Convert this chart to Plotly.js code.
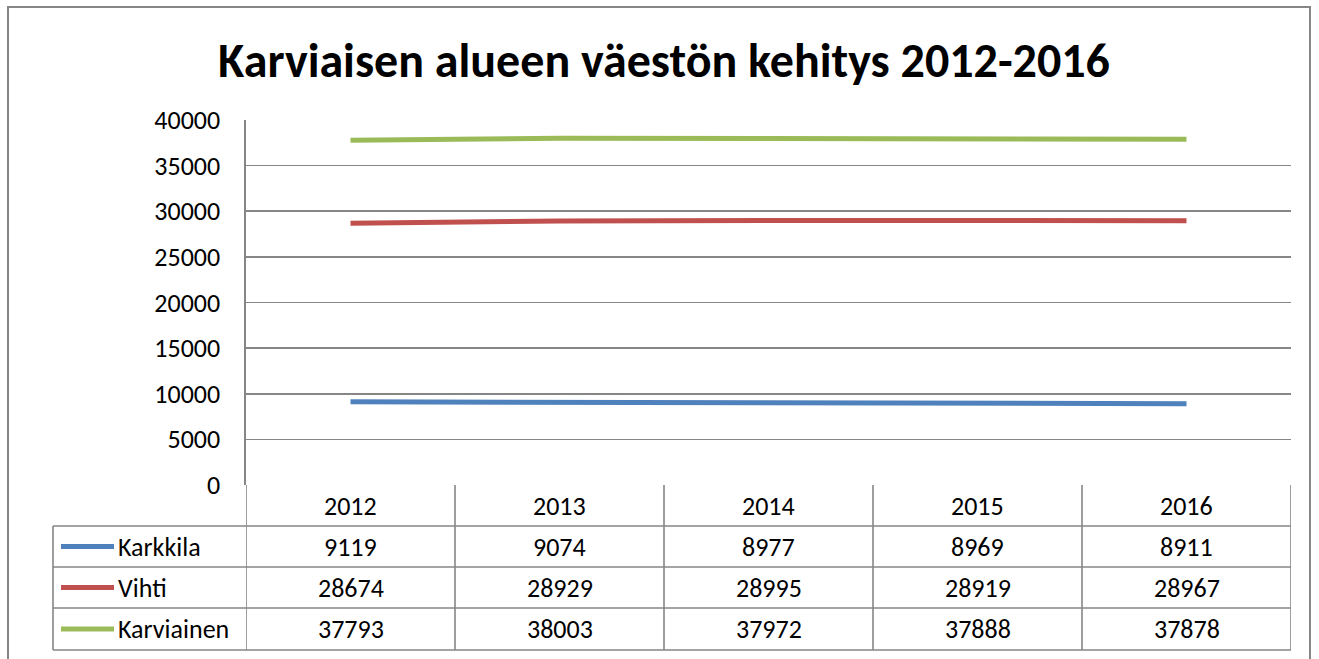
<!DOCTYPE html>
<html>
<head>
<meta charset="utf-8">
<script src="https://cdn.plot.ly/plotly-3.0.1.min.js"></script>
<style>html,body{margin:0;padding:0;background:#fff;}#chart{width:1319px;height:659px;}</style>
</head>
<body>
<div id="chart"></div>
<script>
// ---- data ----
const years = ['2012', '2013', '2014', '2015', '2016'];
const seriesNames = ['Karkkila', 'Vihti', 'Karviainen'];
const karkkila = [9119, 9074, 8977, 8969, 8911];
const vihti = [28674, 28929, 28995, 28919, 28967];
const karviainen = [37793, 38003, 37972, 37888, 37878];
const yTicks = [0, 5000, 10000, 15000, 20000, 25000, 30000, 35000, 40000];
const titleText = 'Karviaisen alueen väestön kehitys 2012-2016';

// ---- styling / layout constants ----
const colors = ['#4F81BD', '#C0504D', '#9BBB59'];
const seriesValues = [karkkila, vihti, karviainen];
const W = 1319, H = 659;
const plotL = 246, plotR = 1291, plotT = 120, plotB = 485;
const FONT = 'Carlito, Calibri, "Liberation Sans", Arial, sans-serif';
const FS = 26;
const gridCol = '#868686';
const px2x = p => (p - plotL) / (plotR - plotL);
const px2y = p => (plotB - p) / (plotB - plotT);

const traces = seriesNames.map((n, i) => ({
  type: 'scatter', mode: 'lines', name: n,
  x: years, y: seriesValues[i],
  line: {color: colors[i], width: 5},
  hoverinfo: 'x+y+name'
}));

// table geometry (pixels)
const rowLines = [526, 567, 608, 650];
const tableLeft = 53;
const shapes = [];
const annotations = [];
const lineStyle = {color: gridCol, width: 1.6};

// outer chart border
shapes.push({type: 'rect', xref: 'paper', yref: 'paper',
  x0: px2x(8), x1: px2x(1310), y0: px2y(670), y1: px2y(7),
  line: {color: gridCol, width: 2}, fillcolor: 'rgba(0,0,0,0)', layer: 'below'});

// horizontal row lines of the data table
rowLines.forEach(y => shapes.push({type: 'line', xref: 'paper', yref: 'paper',
  x0: px2x(tableLeft), x1: 1, y0: px2y(y), y1: px2y(y), line: lineStyle}));
// vertical column separators (category boundaries)
for (let i = 0; i <= years.length; i++) {
  shapes.push({type: 'line', xref: 'x', yref: 'paper',
    x0: i - 0.5, x1: i - 0.5, y0: px2y(rowLines[rowLines.length - 1]), y1: 0, line: lineStyle});
}
// left edge of the series-name column
shapes.push({type: 'line', xref: 'paper', yref: 'paper',
  x0: px2x(tableLeft), x1: px2x(tableLeft), y0: px2y(rowLines[0]), y1: px2y(rowLines[rowLines.length - 1]), line: lineStyle});

// year header
years.forEach((yr, j) => annotations.push({xref: 'x', yref: 'paper', x: j,
  y: px2y((plotB + rowLines[0]) / 2), text: yr, showarrow: false,
  font: {family: FONT, size: FS, color: '#000'}, xanchor: 'center', yanchor: 'middle'}));

// series rows
seriesNames.forEach((n, i) => {
  const top = rowLines[i], bot = rowLines[i + 1];
  const cy = px2y((top + bot) / 2);
  shapes.push({type: 'line', xref: 'paper', yref: 'paper',
    x0: px2x(61), x1: px2x(114), y0: cy, y1: cy,
    line: {color: colors[i], width: 5}});
  annotations.push({xref: 'paper', yref: 'paper', x: px2x(116), y: cy, text: n,
    showarrow: false, xanchor: 'left', yanchor: 'middle',
    font: {family: FONT, size: FS, color: '#000'}});
  seriesValues[i].forEach((v, j) => annotations.push({xref: 'x', yref: 'paper', x: j, y: cy,
    text: String(v), showarrow: false, xanchor: 'center', yanchor: 'middle',
    font: {family: FONT, size: FS, color: '#000'}}));
});

const layout = {
  width: W, height: H,
  margin: {l: plotL, r: W - plotR, t: plotT, b: H - plotB, pad: 0},
  paper_bgcolor: '#fff', plot_bgcolor: '#fff',
  showlegend: false,
  title: {text: '<b>' + titleText + '</b>', xref: 'container', yref: 'container',
    x: 664 / W, y: 1 - 60 / H, xanchor: 'center', yanchor: 'middle',
    font: {family: FONT, size: 48, color: '#000'}},
  xaxis: {type: 'category', range: [-0.5, years.length - 0.5], showticklabels: false,
    showgrid: false, zeroline: false, showline: false, ticks: ''},
  yaxis: {range: [0, 40000], tickvals: yTicks, ticktext: yTicks.map(String),
    showgrid: true, gridcolor: gridCol, gridwidth: 1.6, zeroline: false,
    showline: true, linecolor: gridCol, linewidth: 1.6, ticks: '',
    ticklabelstandoff: 19,
    tickfont: {family: FONT, size: FS, color: '#000'}},
  shapes: shapes, annotations: annotations
};

Plotly.newPlot('chart', traces, layout, {displayModeBar: false, staticPlot: true});
</script>
</body>
</html>
